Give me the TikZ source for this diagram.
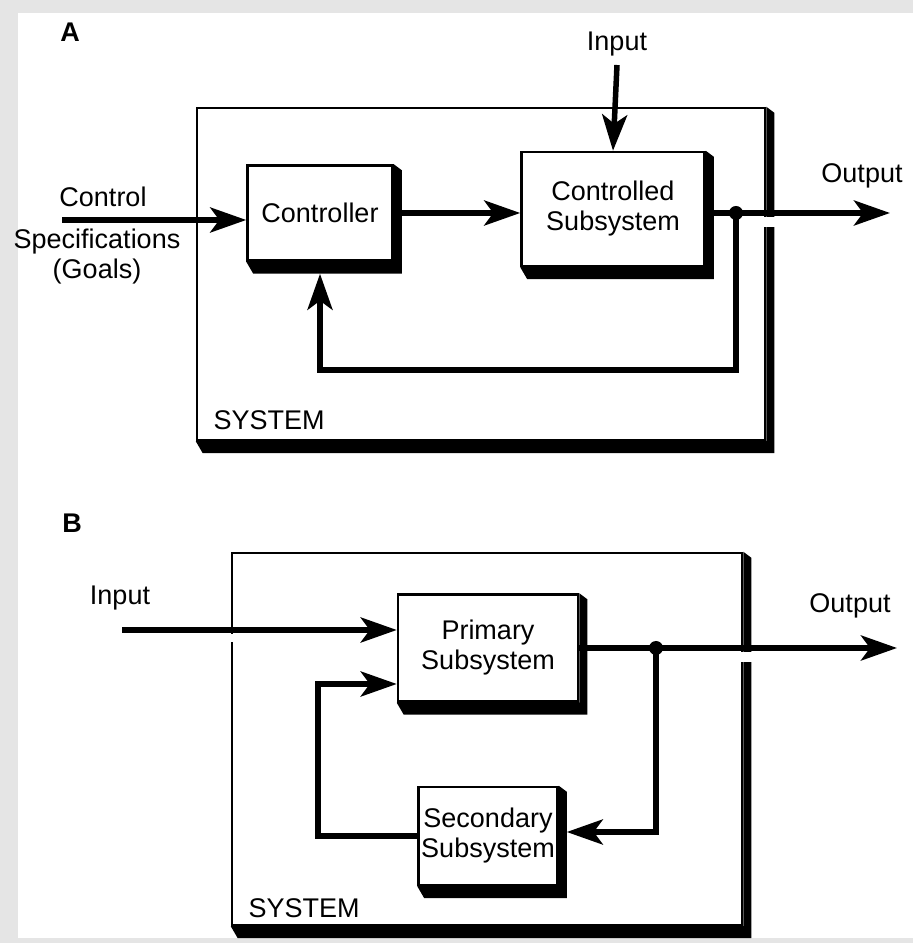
\documentclass[tikz,border=0pt]{standalone}
\usepackage{fontspec}
\setmainfont{Liberation Sans}
\usetikzlibrary{arrows.meta,calc}

\begin{document}
\begin{tikzpicture}[x=1pt,y=1pt,>=Stealth,
  every node/.style={font=\fontsize{27}{30}\selectfont,align=center},
  blk/.style={draw,line width=2.5pt,fill=white,inner sep=0pt},
  sysbox/.style={draw,line width=2.5pt,fill=white,inner sep=0pt},
  flow/.style={line width=5.5pt,-{Stealth[length=36pt,width=25pt,inset=9pt]}},
  gap/.style={fill=white}]
\useasboundingbox (0,0) rectangle (913,943);
% screenshot frame
\fill[gray!20] (0,0) rectangle (913,943);
\fill[white] (18,5) rectangle (913,930);

% ---- A ----
\node[sysbox,minimum width=568pt,minimum height=332pt] (sysA) at (481,669) {};
\node[anchor=west] (sysAtxt) at (210,523) {SYSTEM};
\node (lblA) at (70,911) {\textbf{A}};
\node[blk,minimum width=145pt,minimum height=95pt] (ctrl) at (320,730) {Controller};
\node[blk,minimum width=183pt,minimum height=114pt] (plant) at (613,734) {Controlled\\Subsystem};
\node (inAtxt) at (617,899) {Input};
\coordinate (inA) at (617,878);
\node (ctlA) at (103,746) {Control};
\node (specA) at (97,686) {Specifications\\(Goals)};
\coordinate (goalA) at (62,723);
\coordinate (jA) at (736,730);
\coordinate (outA) at (890,730);
\node (outAtxt) at (862,767) {Output};
\coordinate (fbA) at (736,573);

% ---- B ----
\node[sysbox,minimum width=510pt,minimum height=372pt] (sysB) at (487,204) {};
\node[anchor=west] (sysBtxt) at (245,35) {SYSTEM};
\node (lblB) at (72,420) {\textbf{B}};
\node[blk,minimum width=180pt,minimum height=107pt] (prim) at (488,295) {Primary\\Subsystem};
\node[blk,minimum width=139pt,minimum height=98pt] (sec) at (488,107) {Secondary\\Subsystem};
\node (inBtxt) at (120,345) {Input};
\coordinate (inB) at (122,313);
\coordinate (jB) at (656,295);
\coordinate (outB) at (897,295);
\node (outBtxt) at (850,337) {Output};
\coordinate (fbB) at (656,111);
\coordinate (retB) at (318,107);
\coordinate (entB) at (318,259);

% solid shadows, bottom and right
\foreach \n in {sysA,ctrl,plant,sysB,prim,sec}
  \fill (\n.south west) -- ++(7,-12) -- ($(\n.south east)+(8,-12)$)
        -- ($(\n.north east)+(8,-6)$) -- (\n.north east) -- (\n.south east) -- cycle;

% connectors A
\draw[flow] (inA) -- (plant.north);
\draw[flow] (goalA) -- (goalA -| ctrl.west);
\draw[flow] (ctrl.east) -- (ctrl.east -| plant.west);
\fill[gap] ([xshift=-6pt,yshift=-4pt]sysA.east |- jA) rectangle ++(22,-10);
\draw[flow] (plant.east |- jA) -- (outA);
\draw[flow] (jA) -- (fbA) -| ([yshift=-12pt]ctrl.south);
\fill (jA) circle (7pt);

% connectors B
\fill[gap] ([xshift=-4pt,yshift=-4pt]sysB.west |- inB) rectangle ++(8,-8);
\draw[flow] (inB) -- (inB -| prim.west);
\fill[gap] ([xshift=-6pt,yshift=-4pt]sysB.east |- jB) rectangle ++(22,-10);
\draw[flow] (prim.east) -- (outB);
\draw[flow] (jB) -- (fbB) -- ([xshift=8pt]sec.east |- fbB);
\draw[flow] (sec.west) -- (retB) -- (entB) -- (entB -| prim.west);
\fill (jB) circle (7pt);
\end{tikzpicture}
\end{document}
